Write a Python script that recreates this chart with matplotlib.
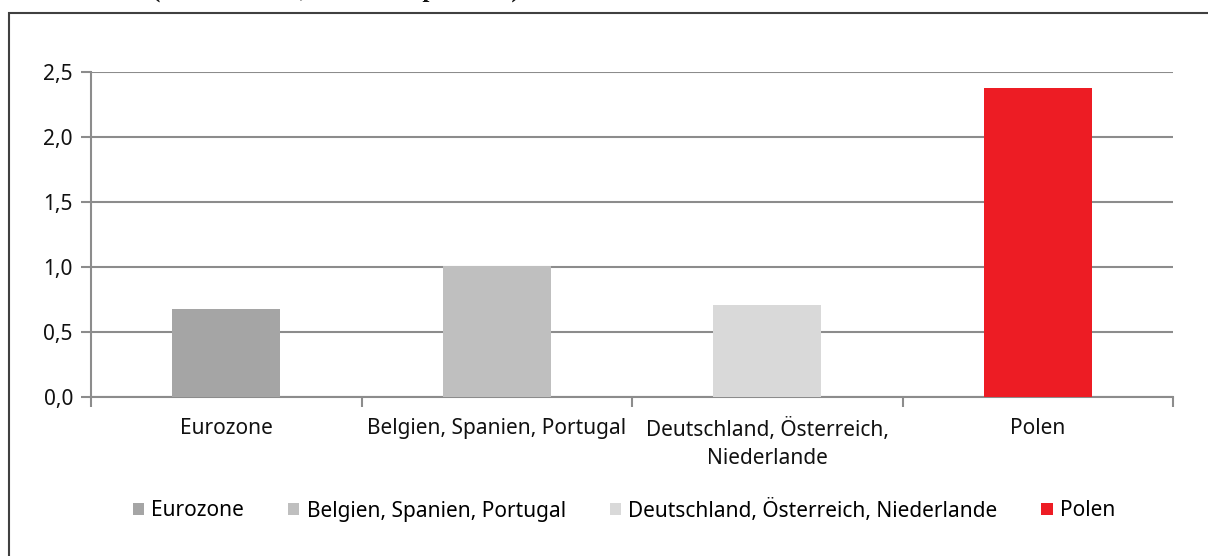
import matplotlib
matplotlib.use("Agg")
import matplotlib.pyplot as plt
from matplotlib.patches import Rectangle, Patch

categories = ["Eurozone", "Belgien, Spanien, Portugal", "Deutschland, Österreich,\nNiederlande", "Polen"]
legend_labels = ["Eurozone", "Belgien, Spanien, Portugal", "Deutschland, Österreich, Niederlande", "Polen"]
values = [0.68, 1.01, 0.71, 2.38]
colors = ["#a5a5a5", "#bfbfbf", "#d9d9d9", "#ed1c24"]
yticks = [0.0, 0.5, 1.0, 1.5, 2.0, 2.5]
ytick_labels = ["0,0", "0,5", "1,0", "1,5", "2,0", "2,5"]
title_text = "(Durchschnitt, in Prozentpunkten)"

plt.rcParams['font.family'] = ['Noto Sans', 'DejaVu Sans']
FS = 15

W, H = 1208, 556
fig = plt.figure(figsize=(W / 100, H / 100), dpi=100)
ax = fig.add_axes([91 / W, 1 - 397 / H, (1173 - 91) / W, (397 - 72) / H])

x = list(range(len(categories)))
ax.bar(x, values, width=0.40, color=colors, zorder=3)

ax.set_xlim(-0.5, len(categories) - 0.5)
ax.set_ylim(0, 2.5)
ax.set_yticks(yticks)
ax.set_yticklabels(ytick_labels, fontsize=FS, color="#111111")
ax.set_xticks(x)
ax.set_xticklabels(categories, fontsize=FS, color="#111111", linespacing=1.45)
ax.tick_params(axis='x', length=0, pad=15)
ax.set_xticks([i - 0.5 for i in range(len(categories) + 1)], minor=True)
ax.tick_params(axis='x', which='minor', length=7, width=1.5, color="#8c8c8c", direction='out')
ax.tick_params(axis='y', length=7, width=1.5, color="#8c8c8c", direction='out', pad=6)

ax.grid(axis='y', color="#8c8c8c", linewidth=1.5, zorder=0)
for s in ["top", "right"]:
    ax.spines[s].set_visible(False)
for s in ["left", "bottom"]:
    ax.spines[s].set_color("#8c8c8c")
    ax.spines[s].set_linewidth(1.5)

handles = [Patch(facecolor=c, edgecolor='none') for c in colors]
fig.legend(handles, legend_labels, loc='center', bbox_to_anchor=(624 / W, 1 - 510 / H),
           ncol=4, frameon=False, fontsize=FS, handlelength=0.55, handleheight=0.55,
           handletextpad=0.35, columnspacing=2.1)

# outer chart frame
frame = Rectangle((8.5 / W, -0.1), 1.2, (556 - 12.5) / H + 0.1, transform=fig.transFigure,
                  fill=False, edgecolor="#404040", linewidth=1.5, clip_on=False)
fig.patches.append(frame)

# cut-off heading above the chart frame
fig.text(152 / W, 1 + 3.5 / H, title_text, family=['Liberation Serif', 'DejaVu Serif'],
         fontweight='bold', fontsize=18, va='baseline', ha='left', color="#111111")

fig.savefig("out.png", dpi=100)
